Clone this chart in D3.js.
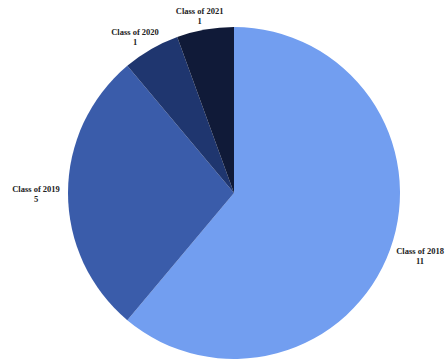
<!DOCTYPE html>
<html>
<head>
<meta charset="utf-8">
<script src="https://cdn.jsdelivr.net/npm/d3@7.9.0/dist/d3.min.js"></script>
<style>
  body { margin: 0; background: #fff; }
  svg text { font-family: "Liberation Serif", "Times New Roman", serif; font-weight: bold; fill: #222; }
</style>
</head>
<body>
<svg width="448" height="362"></svg>
<script>
const categories = ['Class of 2018', 'Class of 2019', 'Class of 2020', 'Class of 2021'];
const counts = [11, 5, 1, 1];
const colors = ['#729ef0', '#3a5caa', '#1f366f', '#101a38'];

const cx = 234, cy = 193, radius = 166;
const svg = d3.select('svg');
const g = svg.append('g').attr('transform', `translate(${cx},${cy})`);

const pie = d3.pie().sort(null).value(d => d.count);
const data = categories.map((c, i) => ({ name: c, count: counts[i], color: colors[i] }));
const arcs = pie(data);

const arcGen = d3.arc().innerRadius(0).outerRadius(radius);

g.selectAll('path')
  .data(arcs)
  .join('path')
  .attr('d', arcGen)
  .attr('fill', d => d.data.color);

// labels sit just outside the rim, box pushed outward along the slice's mid angle
const gap = 4, boxW = 56, boxH = 22;
arcs.forEach(d => {
  const a = (d.startAngle + d.endAngle) / 2;
  const s = Math.sin(a), c = -Math.cos(a);
  const px = (radius + gap) * s + s * boxW / 2;
  const py = (radius + gap) * c + c * boxH / 2;
  const t = g.append('text')
    .attr('text-anchor', 'middle')
    .attr('font-size', 8.5);
  t.append('tspan').attr('x', px).attr('y', py - 1).text(d.data.name);
  t.append('tspan').attr('x', px).attr('y', py + 9).text(d.data.count);
});
</script>
</body>
</html>
